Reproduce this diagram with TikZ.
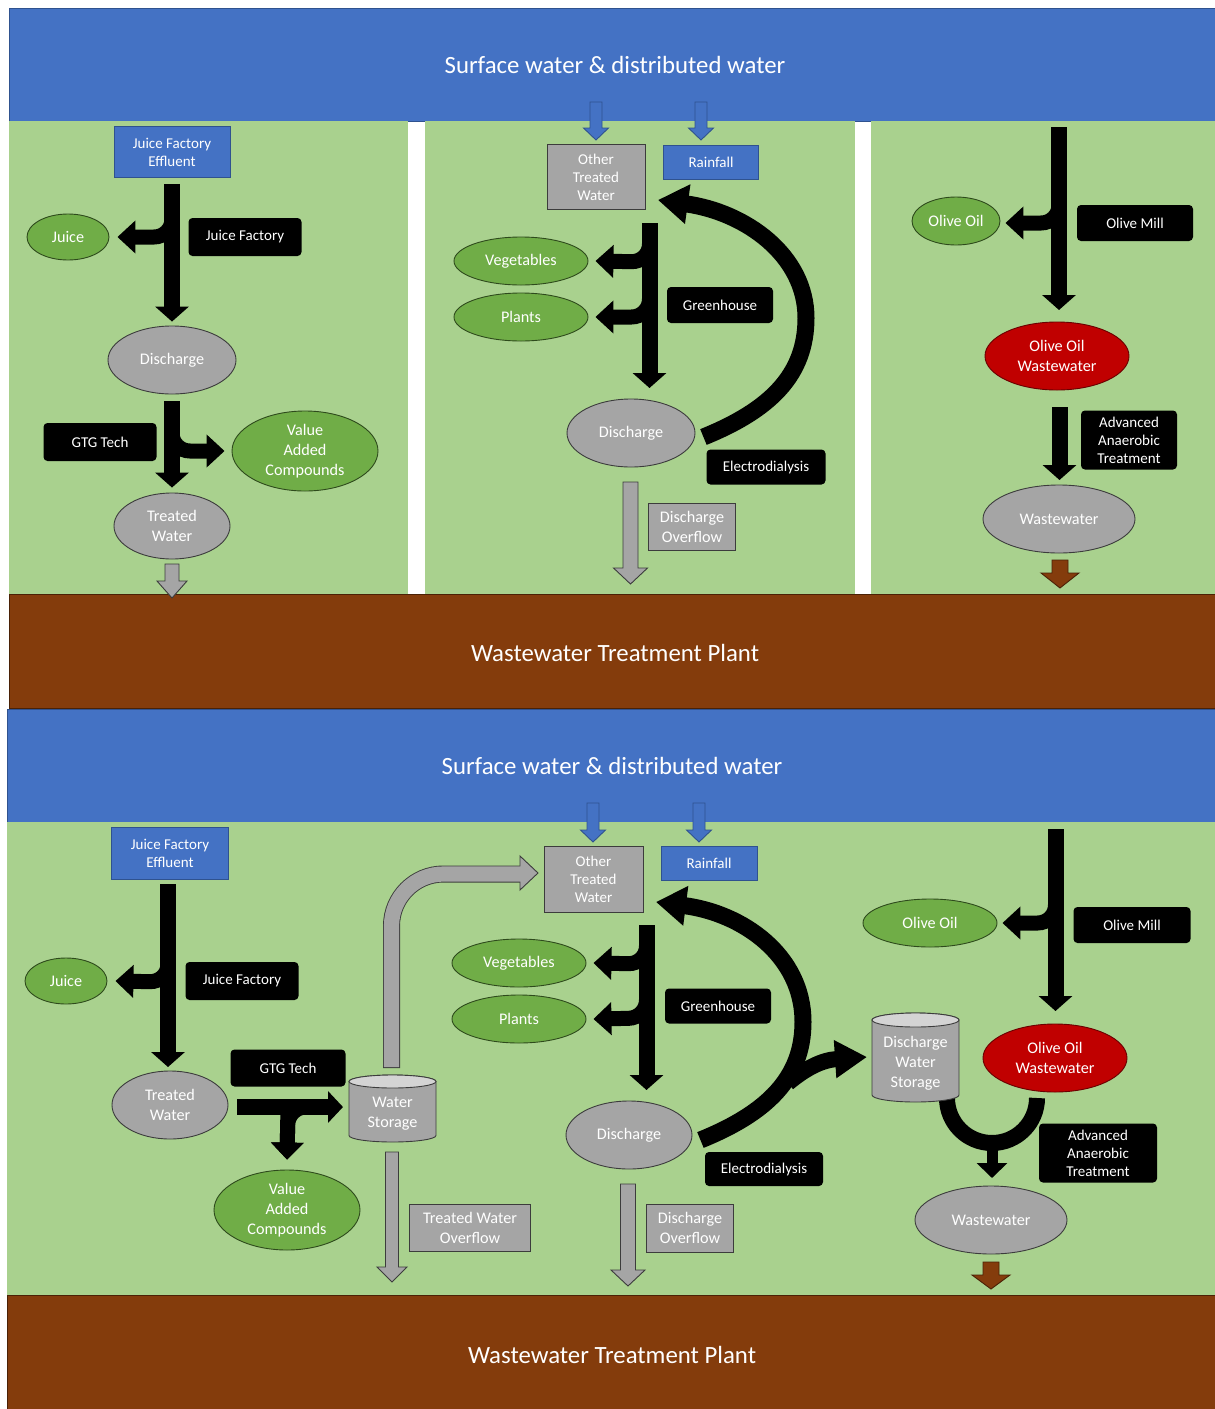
\documentclass[tikz,border=0pt]{standalone}
\usepackage{fontspec}
\setmainfont{Carlito}
\usetikzlibrary{arrows.meta,shapes.geometric,calc}
\definecolor{cblue}{HTML}{4472C4}
\definecolor{cbluedk}{HTML}{2F528F}
\definecolor{cbg}{HTML}{A9D18E}
\definecolor{cbrown}{HTML}{843C0C}
\definecolor{cbrowndk}{HTML}{4A2106}
\definecolor{cgreen}{HTML}{70AD47}
\definecolor{cgreendk}{HTML}{2E4A1C}
\definecolor{cgray}{HTML}{A5A5A5}
\definecolor{cgraydk}{HTML}{3C3C3C}
\definecolor{clight}{HTML}{D4D4D4}
\definecolor{cred}{HTML}{C00000}
\definecolor{creddk}{HTML}{6A0000}
\newcommand\bxf{\fontsize{15}{18}\selectfont}
\newcommand\elf{\fontsize{16.2}{20}\selectfont}
\newcommand\ttlf{\fontsize{24.8}{28}\selectfont}
\newcommand\dnarrow[7]{\filldraw[#1] (#2-#5,#3) -- (#2+#5,#3) -- (#2+#5,#4-#7) -- (#2+#6,#4-#7) -- (#2,#4) -- (#2-#6,#4-#7) -- (#2-#5,#4-#7) -- cycle;}
\newcommand\cylshape[5]{% x1, x2, top, bottom, ry
  \filldraw[cyl] (#1,#3+#5) -- (#1,#4-#5) arc[start angle=180,end angle=360,x radius={(#2-#1)/2*1pt},y radius=#5pt] -- (#2,#3+#5) arc[start angle=0,end angle=180,x radius={(#2-#1)/2*1pt},y radius=#5pt] -- cycle;
  \filldraw[fill=clight, draw=cgraydk, line width=0.9pt] ({(#1+#2)/2},#3+#5) ellipse [x radius={(#2-#1)/2*1pt}, y radius=#5pt];}
\begin{document}
\begin{tikzpicture}[x=1pt,y=-1pt,
  blk/.style={draw=black, line width=16pt, -{Triangle[width=33pt 0 0,length=15pt 0 0]}},
  brn/.style={draw=black, line width=15pt, rounded corners=18pt, -{Triangle[width=32pt 0 0,length=18pt 0 0]}},
  big/.style={draw=black, line width=17pt, -{Triangle[width=38pt 0 0,length=30pt 0 0]}},
  garr/.style={fill=cgray, draw=cgraydk, line width=0.9pt},
  barr/.style={fill=cblue, draw=cbluedk, line width=0.9pt},
  brarr/.style={fill=cbrown, draw=cbrowndk, line width=0.9pt},
  cyl/.style={fill=cgray, draw=cgraydk, line width=0.9pt},
  ell/.style={ellipse, inner sep=0pt, line width=0.9pt, align=center, font=\elf, text=white},
  gel/.style={ell, fill=cgreen, draw=cgreendk},
  grl/.style={ell, fill=cgray, draw=cgraydk},
  rdl/.style={ell, fill=cred, draw=creddk},
  bx/.style={rectangle, inner sep=0pt, align=center, font=\bxf, text=white, line width=0.9pt},
  bbx/.style={bx, fill=black, rounded corners=4pt},
  blbx/.style={bx, fill=cblue, draw=cbluedk},
  gbx/.style={bx, fill=cgray, draw=cgraydk},
  ttl/.style={font=\ttlf, text=white}]
\useasboundingbox (0,0) rectangle (1215,1409);
\fill[white] (0,0) rectangle (1215,1409);

%%%%% TOP PANEL %%%%%
\filldraw[fill=cblue, draw=cbluedk, line width=1pt] (9,8) rectangle (1217,121);
\fill[cbg] (9,121) rectangle (408,594);
\fill[cbg] (425,121) rectangle (855,594);
\fill[cbg] (871,121) rectangle (1217,594);
\filldraw[fill=cbrown, draw=cbrowndk, line width=1pt] (9,594) rectangle (1217,708);
\node[ttl] (sw1) at (615,65) {Surface water \& distributed water};
\node[ttl] (wtp1) at (615,653) {Wastewater Treatment Plant};

% left column
\node[blbx, minimum width=116pt, minimum height=51pt] (jfe1) at (172,152) {Juice Factory\\Effluent};
\node[gel, minimum width=82pt, minimum height=46pt] (juice1) at (68,237) {Juice};
\node[bbx, minimum width=113pt, minimum height=38pt] (jf1) at (245,237) {Juice Factory};
\node[grl, minimum width=128pt, minimum height=68pt] (dis1) at (172,360) {Discharge};
\node[bbx, minimum width=113pt, minimum height=38pt] (gtg1) at (100,442) {GTG Tech};
\node[gel, minimum width=146pt, minimum height=80pt] (vac1) at (305,451) {Value\\Added\\Compounds};
\node[grl, minimum width=116pt, minimum height=66pt] (tw1) at (172,526) {Treated\\Water};
\draw[blk, shorten <=6pt, shorten >=4pt] (jfe1) -- (dis1);
\coordinate (j1) at (172,237);
\draw[brn] ($(j1)+(0,-35)$) -- (j1) -- ($(juice1.east)+(8,0)$);
\draw[blk, shorten <=7pt, shorten >=5pt] (dis1) -- (tw1);
\coordinate (j2) at (172,451);
\draw[brn] ($(j2)+(0,-40)$) -- (j2) -- ($(vac1.west)+(-7,0)$);
\dnarrow{garr}{172}{564}{598}{7}{15}{17}

% middle column
\dnarrow{barr}{596}{102}{140}{6}{12.5}{12}
\dnarrow{barr}{701}{102}{140}{6}{12.5}{12}
\node[gbx, minimum width=98pt, minimum height=65pt] (otw1) at (596,177) {Other\\Treated\\Water};
\node[blbx, minimum width=95pt, minimum height=34pt] (rain1) at (711,162) {Rainfall};
\node[gel, minimum width=134pt, minimum height=48pt] (veg1) at (521,261) {Vegetables};
\node[gel, minimum width=134pt, minimum height=48pt] (pla1) at (521,317) {Plants};
\node[bbx, minimum width=106pt, minimum height=36pt] (gh1) at (720,305) {Greenhouse};
\node[grl, minimum width=128pt, minimum height=68pt] (dis2) at (631,433) {Discharge};
\node[bbx, minimum width=119pt, minimum height=35pt] (ed1) at (766,467) {Electrodialysis};
\node[gbx, font=\elf, minimum width=87pt, minimum height=47pt] (dov1) at (692,527) {Discharge\\Overflow};
\draw[blk] (649.5,223) -- (649.5,388);
\draw[brn] (649.5,235) -- (649.5,262) -- ($(veg1.east)+(7,0)$);
\draw[brn] (649.5,290) -- (649.5,317) -- ($(pla1.east)+(7,0)$);
\draw[big] ($(dis2.east)+(8,4)$) .. controls (770,410) and (806,375) .. (806,318) .. controls (806,255) and (745,212) .. (658,200);
\dnarrow{garr}{630.5}{482}{584}{7.5}{17}{16}

% right column
\node[gel, minimum width=88pt, minimum height=48pt] (oo1) at (956,221) {Olive Oil};
\node[bbx, minimum width=116pt, minimum height=36pt] (om1) at (1135,223) {Olive Mill};
\node[rdl, minimum width=144pt, minimum height=68pt] (oow1) at (1057,356) {Olive Oil\\Wastewater};
\node[bbx, minimum width=96pt, minimum height=59pt] (aat1) at (1129,440) {Advanced\\Anaerobic\\Treatment};
\node[grl, minimum width=152pt, minimum height=68pt] (ww1) at (1059,519) {Wastewater};
\draw[blk] (1059,127) -- (1059,310);
\draw[brn] (1059,195) -- (1059,223) -- ($(oo1.east)+(5,2)$);
\draw[blk] (1059.5,407) -- (1059.5,480);
\dnarrow{brarr}{1060}{560}{588}{8}{19}{15}

%%%%% BOTTOM PANEL %%%%%
\filldraw[fill=cblue, draw=cbluedk, line width=1pt] (7,709) rectangle (1217,822);
\fill[cbg] (7,822) rectangle (1217,1295);
\filldraw[fill=cbrown, draw=cbrowndk, line width=1pt] (7,1295) rectangle (1217,1411);
\node[ttl] (sw2) at (612,766) {Surface water \& distributed water};
\node[ttl] (wtp2) at (612,1355) {Wastewater Treatment Plant};

% left part
\node[blbx, minimum width=117pt, minimum height=52pt] (jfe2) at (170,853) {Juice Factory\\Effluent};
\node[gel, minimum width=82pt, minimum height=46pt] (juice2) at (66,981) {Juice};
\node[bbx, minimum width=113pt, minimum height=38pt] (jf2) at (242,981) {Juice Factory};
\node[grl, minimum width=116pt, minimum height=68pt] (tw2) at (170,1105) {Treated\\Water};
\node[bbx, minimum width=115pt, minimum height=37pt] (gtg2) at (288,1068) {GTG Tech};
\node[gel, minimum width=146pt, minimum height=80pt] (vac2) at (287,1210) {Value\\Added\\Compounds};
\draw[blk] (168,884) -- (168,1067);
\coordinate (j3) at (168,982);
\draw[brn] ($(j3)+(0,-35)$) -- (j3) -- ($(juice2.east)+(8,0)$);
\coordinate (j4) at (288,1107);
\draw[draw=black, line width=15pt, -{Triangle[width=32pt 0 0,length=17pt 0 0]}] (j4) -- ($(vac2.north)+(0,-10)$);
\draw[brn, -{Triangle[width=32pt 0 0,length=17pt 0 0]}] ($(j4)+(32,0)$) -- (j4) -- ($(vac2.north)+(0,-10)$);
\draw[blk, -{Triangle[width=31pt 0 0,length=15pt 0 0]}] (237,1107) -- (343,1107);
% water storage
\cylshape{349}{436}{1075}{1142}{6.5}
\node[font=\elf, text=white, align=center] (ws) at (392.5,1114) {Water\\Storage};
% recycled water to other treated water
\draw[line width=17pt, draw=cgraydk, rounded corners=52pt] (391.5,1068) -- (391.5,874) -- (521,874);
\filldraw[garr] (520,856) -- (538,873) -- (520,890) -- cycle;
\draw[line width=15.2pt, draw=cgray, rounded corners=52pt] (391.5,1067.2) -- (391.5,874) -- (522,874);
\dnarrow{garr}{392}{1152}{1282}{6.5}{15}{15}
\node[gbx, font=\elf, minimum width=121pt, minimum height=47pt] (two1) at (470,1228) {Treated Water\\Overflow};

% middle part
\dnarrow{barr}{593}{803}{842}{6}{12.5}{12}
\dnarrow{barr}{699}{803}{842}{6}{12.5}{12}
\node[gbx, minimum width=99pt, minimum height=66pt] (otw2) at (593.5,879) {Other\\Treated\\Water};
\node[blbx, minimum width=96pt, minimum height=34pt] (rain2) at (709,863) {Rainfall};
\node[gel, minimum width=134pt, minimum height=48pt] (veg2) at (519,963) {Vegetables};
\node[gel, minimum width=134pt, minimum height=48pt] (pla2) at (519,1019) {Plants};
\node[bbx, minimum width=106pt, minimum height=35pt] (gh2) at (718,1006) {Greenhouse};
\node[grl, minimum width=126pt, minimum height=68pt] (dis3) at (629,1135) {Discharge};
\node[bbx, minimum width=118pt, minimum height=34pt] (ed2) at (764,1169) {Electrodialysis};
\node[gbx, font=\elf, minimum width=87pt, minimum height=48pt] (dov2) at (690,1228) {Discharge\\Overflow};
\draw[blk] (646.5,925) -- (646.5,1090);
\draw[brn] (646.5,937) -- (646.5,964) -- ($(veg2.east)+(7,0)$);
\draw[brn] (646.5,990) -- (646.5,1018) -- ($(pla2.east)+(7,0)$);
\draw[big] ($(dis3.east)+(8,5)$) .. controls (767,1113) and (803,1078) .. (803,1022) .. controls (803,955) and (742,913) .. (656,902);
\draw[big, line width=16pt, -{Triangle[width=36pt 0 0,length=32pt 0 0]}] (788,1083) .. controls (806,1068) and (822,1060) .. (867,1057);
\dnarrow{garr}{628}{1184}{1286}{7.5}{17}{16}

% right part
\node[gel, minimum width=134pt, minimum height=48pt] (oo2) at (930,923) {Olive Oil};
\node[bbx, minimum width=117pt, minimum height=36pt] (om2) at (1132,925) {Olive Mill};
\draw[blk] (1055.5,829) -- (1055.5,1011);
\coordinate (j5) at (1055.5,923);
\draw[brn] ($(j5)+(0,-30)$) -- (j5) -- ($(oo2.east)+(5,0)$);
\draw[line width=16pt] (947,1098) arc[start angle=180,end angle=360,radius=45pt];
\draw[line width=11pt, -{Triangle[width=30pt 0 0,length=15pt 0 0]}] (992,1140) -- (992,1178);
\cylshape{872}{959}{1013}{1102}{7}
\node[font=\elf, text=white, align=center] (dws) at (915.5,1063) {Discharge\\Water\\Storage};
\node[rdl, minimum width=144pt, minimum height=68pt] (oow2) at (1055,1058) {Olive Oil\\Wastewater};
\node[bbx, minimum width=118pt, minimum height=59pt] (aat2) at (1098,1153) {Advanced\\Anaerobic\\Treatment};
\node[grl, minimum width=152pt, minimum height=68pt] (ww2) at (991,1220) {Wastewater};
\dnarrow{brarr}{991}{1262}{1289}{8}{19}{14}
\end{tikzpicture}
\end{document}
